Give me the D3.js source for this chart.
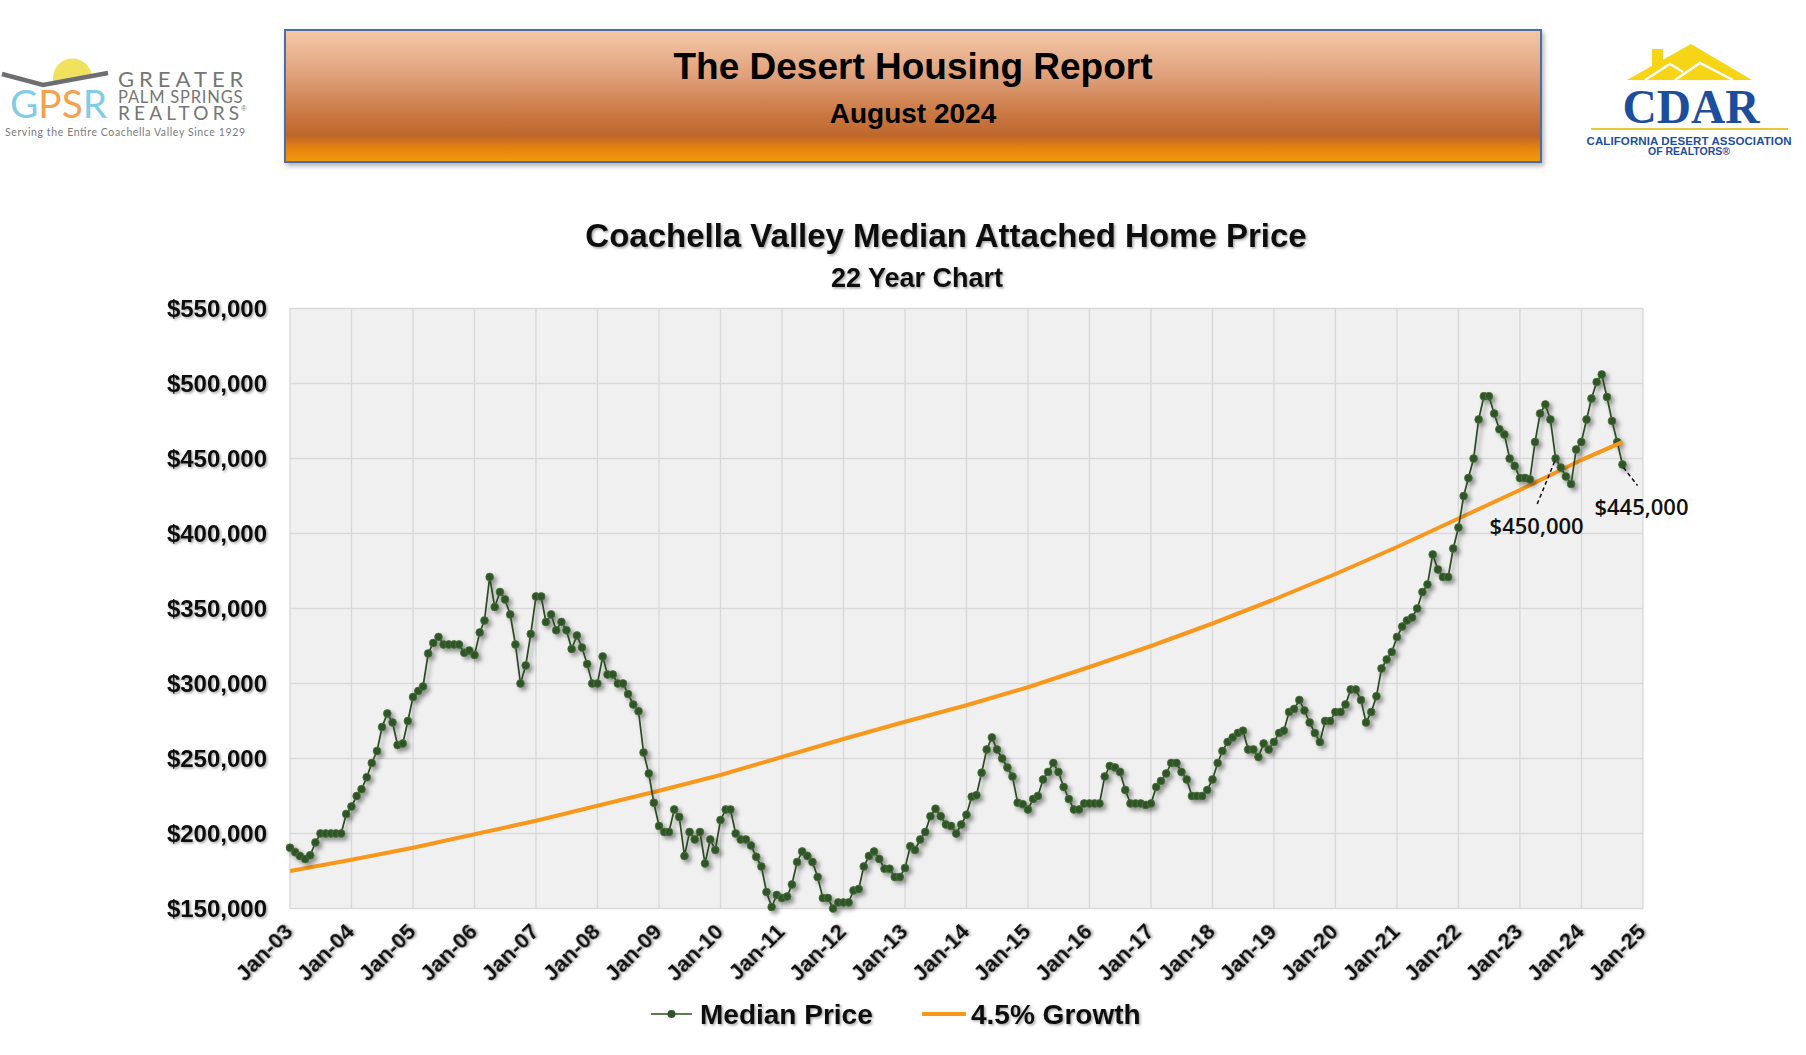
<!DOCTYPE html>
<html><head><meta charset="utf-8">
<script src="https://cdn.jsdelivr.net/npm/d3@7/dist/d3.min.js"></script>
<style>
body{margin:0;background:#fff;}
svg{display:block;}
</style>
</head><body>
<svg id="c" width="1806" height="1055" style="font-family:'Liberation Sans',Arial,sans-serif"></svg>
<script>
// ---------------- data ----------------
const reportTitle = "The Desert Housing Report";
const reportDate = "August 2024";
const chartTitle = "Coachella Valley Median Attached Home Price";
const chartSubtitle = "22 Year Chart";
const firstMonth = "2003-01";
// monthly median attached price, thousands of dollars (Jan-03 .. Sep-24)
const medianPriceK = [
  190.5,187.5,185,183,185.5,194,200,200,200,200,200,213,
  218,225,229.5,237.5,247,255,271,280,274,259,260,275,
  291,295,298,320,327,331,326,326,326,326,320.5,322,
  319,334,342,371,351,361,356,346,326,300,312,333,
  358,358,341,346,335.5,341,335.5,323,332,324,313,300,
  300,318,306,306,300,300,293,286,281.5,254,240,220.5,
  205,201,201,216,211,185,201,196,201,180,196,189,
  209,216,216,200,196,196,192,184.5,178,161,151,159,
  157,158,166,181,188,185,181,171,157,157,150,154,
  154,154,162,163,178,185,188,183,176.5,176.5,171,171,
  177,191.5,189,196,201,211.5,216.5,211.5,206,205,200,206,
  212.5,224.5,225.5,240.5,256,264,256,250,244,238,220.5,219.5,
  216,223,225,236,241,247,241,231,223,216,216,220,
  220,220,220,238,245,244,241,229,220,220,220,219,
  220,231,235,240,247,247,241,236,225,225,225,229,
  236,247,255,261,264,267,268.5,256,256,251,260,256,
  261,267,268.5,281,283,289,282,274,267,261,275,275,
  281,281,286,296,296,289,274,281,291.5,310,316,321,
  331,338,342,344,350,361,366,386,376,371,371,390,
  404,425,437,450,476,491.5,491.5,480,469.5,466,450,445,
  437,437,436,461,480,486,476,450,444,438,433,456,
  461,476,490,501,506,491,475,461,446
];
// 4.5% growth trend line, read at each January (and the last month)
const growthMonths = ["2003-01","2004-01","2005-01","2006-01","2007-01","2008-01","2009-01","2010-01",
  "2011-01","2012-01","2013-01","2014-01","2015-01","2016-01","2017-01","2018-01","2019-01",
  "2020-01","2021-01","2022-01","2023-01","2024-01","2024-09"];
const growthK = [175,182.5,190.5,199.5,208.5,218.5,228.5,239,251,263,274.5,285.5,297.5,311,325,340,356,373,391,410,429,449,461];
const yTicks = [150000,200000,250000,300000,350000,400000,450000,500000,550000];
const xTickYears = [2003,2004,2005,2006,2007,2008,2009,2010,2011,2012,2013,2014,2015,2016,2017,2018,2019,2020,2021,2022,2023,2024,2025];
const legendLabels = ["Median Price","4.5% Growth"];
const callouts = [{month:"2023-08", label:"$450,000"},{month:"2024-09", label:"$445,000"}];

// ---------------- drawing ----------------
const svg = d3.select("#c");
const parseM = d3.timeParse("%Y-%m");
const defs = svg.append("defs");
const SANS = "'Liberation Sans',Arial,sans-serif";
const LOGO = "Lato,'Open Sans',sans-serif";

const ts = defs.append("filter").attr("id","tshadow").attr("x","-10%").attr("y","-30%").attr("width","130%").attr("height","180%");
ts.append("feDropShadow").attr("dx",1.5).attr("dy",1.5).attr("stdDeviation",1.1).attr("flood-color","#000").attr("flood-opacity",0.35);
const ms = defs.append("filter").attr("id","mshadow").attr("x","-5%").attr("y","-5%").attr("width","115%").attr("height","115%");
ms.append("feDropShadow").attr("dx",3).attr("dy",3).attr("stdDeviation",2).attr("flood-color","#000").attr("flood-opacity",0.4);
const bs = defs.append("filter").attr("id","bshadow").attr("x","-5%").attr("y","-10%").attr("width","110%").attr("height","130%");
bs.append("feDropShadow").attr("dx",2).attr("dy",3).attr("stdDeviation",2.5).attr("flood-color","#000").attr("flood-opacity",0.3);

const hg = defs.append("linearGradient").attr("id","hgrad").attr("x1",0).attr("y1",0).attr("x2",0).attr("y2",1);
[[0,"#F5C8A8"],[0.35,"#DFA07A"],[0.62,"#CB7A45"],[0.8,"#C0662C"],[0.9,"#E5850F"],[1,"#F39A0C"]]
  .forEach(([o,c])=>hg.append("stop").attr("offset",o).attr("stop-color",c));

// header box
svg.append("rect").attr("x",285).attr("y",30).attr("width",1256).attr("height",132)
  .attr("fill","url(#hgrad)").attr("stroke","#4C6EA6").attr("stroke-width",2).attr("filter","url(#bshadow)");
svg.append("text").attr("x",913).attr("y",79).attr("text-anchor","middle").style("font-family",SANS)
  .attr("font-size",37).attr("font-weight","bold").attr("fill","#000").text(reportTitle);
svg.append("text").attr("x",913).attr("y",123).attr("text-anchor","middle").style("font-family",SANS)
  .attr("font-size",28).attr("font-weight","bold").attr("fill","#000").text(reportDate);

// GPSR logo
const g1 = svg.append("g");
defs.append("clipPath").attr("id","sunclip").append("path").attr("d","M40,40 L112,40 L108,73 L43,84 L40,83 Z");
g1.append("circle").attr("cx",72.5).attr("cy",78).attr("r",19.5).attr("fill","#F0E25E").attr("clip-path","url(#sunclip)");
g1.append("polyline").attr("points","2,74 43,85 108,73").attr("fill","none").attr("stroke","#6D6E71").attr("stroke-width",4.5);
const gp = g1.append("text").attr("x",10).attr("y",118).style("font-family",LOGO)
  .attr("font-size",39).attr("textLength",97).attr("lengthAdjust","spacingAndGlyphs");
[["G","#82CDE5"],["PS","#F4A24F"],["R","#82CDE5"]].forEach(([t,c])=>gp.append("tspan").attr("fill",c).text(t));
// three stacked name lines, as one multi-line text block
const nm = g1.append("text").style("font-family",LOGO).attr("fill","#767676");
nm.append("tspan").attr("x",118).attr("y",87).attr("font-size",22).attr("letter-spacing",5).text("GREATER");
nm.append("tspan").attr("x",118).attr("y",103).attr("font-size",16.5).attr("letter-spacing",0.8).text("PALM SPRINGS");
nm.append("tspan").attr("x",118).attr("y",120).attr("font-size",19).attr("letter-spacing",4.2).text("REALTORS");
nm.append("tspan").attr("dx",-2).attr("dy",-9).attr("font-size",7).style("font-family",SANS).text("®");
g1.append("text").attr("x",5).attr("y",136).style("font-family",LOGO).attr("font-size",10.5)
  .attr("fill","#7A7A7A").attr("textLength",240).attr("lengthAdjust","spacing").text("Serving the Entire Coachella Valley Since 1929");

// CDAR logo
const g2 = svg.append("g");
g2.append("rect").attr("x",1652).attr("y",49).attr("width",11).attr("height",18).attr("fill","#F6D416");
g2.append("polygon").attr("points","1627,80 1691,44 1752,80").attr("fill","#F6D416");
g2.append("polyline").attr("points","1645,80 1670,64 1683,72").attr("fill","none").attr("stroke","#fff").attr("stroke-width",2.5);
g2.append("polyline").attr("points","1675,80 1700,63 1733,80").attr("fill","none").attr("stroke","#fff").attr("stroke-width",2.5);
g2.append("text").attr("x",1691).attr("y",123).attr("text-anchor","middle").style("font-family","'Liberation Serif','DejaVu Serif',serif")
  .attr("font-weight","bold").attr("font-size",48).attr("fill","#1D4E9E").attr("textLength",137).attr("lengthAdjust","spacingAndGlyphs").text("CDAR");
g2.append("line").attr("x1",1591).attr("x2",1788).attr("y1",129).attr("y2",129).attr("stroke","#E9C73A").attr("stroke-width",2);
g2.append("text").attr("x",1689).attr("y",145).attr("text-anchor","middle").style("font-family",SANS).attr("font-weight","bold").attr("font-size",11.5)
  .attr("fill","#1D4E9E").attr("textLength",205).attr("lengthAdjust","spacing").text("CALIFORNIA DESERT ASSOCIATION");
g2.append("text").attr("x",1689).attr("y",155).attr("text-anchor","middle").style("font-family",SANS).attr("font-weight","bold").attr("font-size",10.5)
  .attr("fill","#1D4E9E").text("OF REALTORS®");

// chart titles
svg.append("text").attr("x",946).attr("y",247).attr("text-anchor","middle").style("font-family",SANS).attr("font-size",33)
  .attr("font-weight","bold").attr("fill","#111").attr("filter","url(#tshadow)").text(chartTitle);
svg.append("text").attr("x",917).attr("y",287).attr("text-anchor","middle").style("font-family",SANS).attr("font-size",27)
  .attr("font-weight","bold").attr("fill","#111").attr("filter","url(#tshadow)").text(chartSubtitle);

// scales
const x = d3.scaleTime().domain([new Date(2003,0,1), new Date(2025,0,1)]).range([290,1643]);
const y = d3.scaleLinear().domain([150000,550000]).range([908.5,308.5]);

// plot background and grid
svg.append("rect").attr("x",x.range()[0]).attr("y",y(550000)).attr("width",x.range()[1]-x.range()[0])
  .attr("height",y(150000)-y(550000)).attr("fill","#F0F0F0");
const grid = svg.append("g").attr("stroke","#D9D9D9").attr("stroke-width",1.4);
grid.selectAll("line.h").data(yTicks).join("line").attr("x1",x.range()[0]).attr("x2",x.range()[1])
  .attr("y1",d=>y(d)).attr("y2",d=>y(d));
grid.selectAll("line.v").data(xTickYears).join("line").attr("x1",d=>x(new Date(d,0,1))).attr("x2",d=>x(new Date(d,0,1)))
  .attr("y1",y(550000)).attr("y2",y(150000));

// y axis labels
const yAxis = d3.axisLeft(y).tickValues(yTicks).tickFormat(d3.format("$,")).tickSize(0).tickPadding(0);
const ya = svg.append("g").attr("transform","translate(267,0)").call(yAxis);
ya.select(".domain").remove();
ya.attr("font-family",null).attr("font-size",null);
ya.selectAll("text").style("font-family",SANS).attr("font-size",24).attr("font-weight","bold")
  .attr("fill","#111").attr("filter","url(#tshadow)");

// x axis labels
const xAxis = d3.axisBottom(x).tickValues(xTickYears.map(yr=>new Date(yr,0,1))).tickFormat(d3.timeFormat("%b-%y")).tickSize(0);
const xa = svg.append("g").call(xAxis);
xa.select(".domain").remove();
xa.attr("font-family",null).attr("font-size",null);
xa.selectAll(".tick").attr("transform",d=>`translate(${x(d)},0)`);
xa.selectAll(".tick text").style("font-family",SANS).attr("font-size",22).attr("font-weight","bold")
  .attr("fill","#111").attr("text-anchor","end").attr("dy",null).attr("y",null)
  .attr("transform","translate(4,933) rotate(-45)").attr("filter","url(#tshadow)");

// growth line
const growthData = growthMonths.map((m,i)=>({date:parseM(m), v:growthK[i]*1000}));
const line = d3.line().x(d=>x(d.date)).y(d=>y(d.v));
svg.append("path").datum(growthData).attr("d",line).attr("fill","none").attr("stroke","#F7981D").attr("stroke-width",4);

// median price line + markers
const start = parseM(firstMonth);
const priceData = medianPriceK.map((v,i)=>({date:d3.timeMonth.offset(start,i), v:v*1000}));
const pg = svg.append("g").attr("filter","url(#mshadow)");
pg.append("path").datum(priceData).attr("d",line).attr("fill","none").attr("stroke","#2C4B22").attr("stroke-width",1.7);
pg.selectAll("circle").data(priceData).join("circle").attr("cx",d=>x(d.date)).attr("cy",d=>y(d.v)).attr("r",3.9)
  .attr("fill","#2F5426").attr("stroke","#4F7343").attr("stroke-width",0.8);

// the orange trend sits above the last months' markers, as in the reference
svg.append("path").datum(growthData.slice(-2)).attr("d",line).attr("fill","none").attr("stroke","#F7981D").attr("stroke-width",4);

// callouts
const calloutOffsets = [{x1:-1, y1:3, lx:-19, ly:47, tx:-19, ty:75},{x1:1, y1:3, lx:15, ly:21, tx:19, ty:50}];
callouts.forEach((c,i)=>{
  const idx = d3.timeMonth.count(start,parseM(c.month));
  const px = x(priceData[idx].date), py = y(priceData[idx].v);
  const o = calloutOffsets[i];
  svg.append("line").attr("x1",px+o.x1).attr("y1",py+o.y1).attr("x2",px+o.lx).attr("y2",py+o.ly)
    .attr("stroke","#111").attr("stroke-width",1.5).attr("stroke-dasharray","4,3");
  svg.append("text").attr("x",px+o.tx).attr("y",py+o.ty).attr("text-anchor","middle")
    .style("font-family","'Open Sans','Noto Sans',sans-serif").attr("font-weight",600).attr("font-size",22)
    .attr("fill","#111").text(c.label);
});

// legend
const lg = svg.append("g");
lg.append("line").attr("x1",651).attr("x2",692).attr("y1",1014).attr("y2",1014).attr("stroke","#2C4B22").attr("stroke-width",1.7);
lg.append("circle").attr("cx",671.5).attr("cy",1014).attr("r",4).attr("fill","#2F5426");
lg.append("text").attr("x",700).attr("y",1024).style("font-family",SANS).attr("font-size",28).attr("font-weight","bold").attr("fill","#111")
  .attr("filter","url(#tshadow)").text(legendLabels[0]);
lg.append("line").attr("x1",922).attr("x2",966).attr("y1",1014).attr("y2",1014).attr("stroke","#F7981D").attr("stroke-width",4);
lg.append("text").attr("x",971).attr("y",1024).style("font-family",SANS).attr("font-size",28).attr("font-weight","bold").attr("fill","#111")
  .attr("filter","url(#tshadow)").text(legendLabels[1]);
</script>
</body></html>
